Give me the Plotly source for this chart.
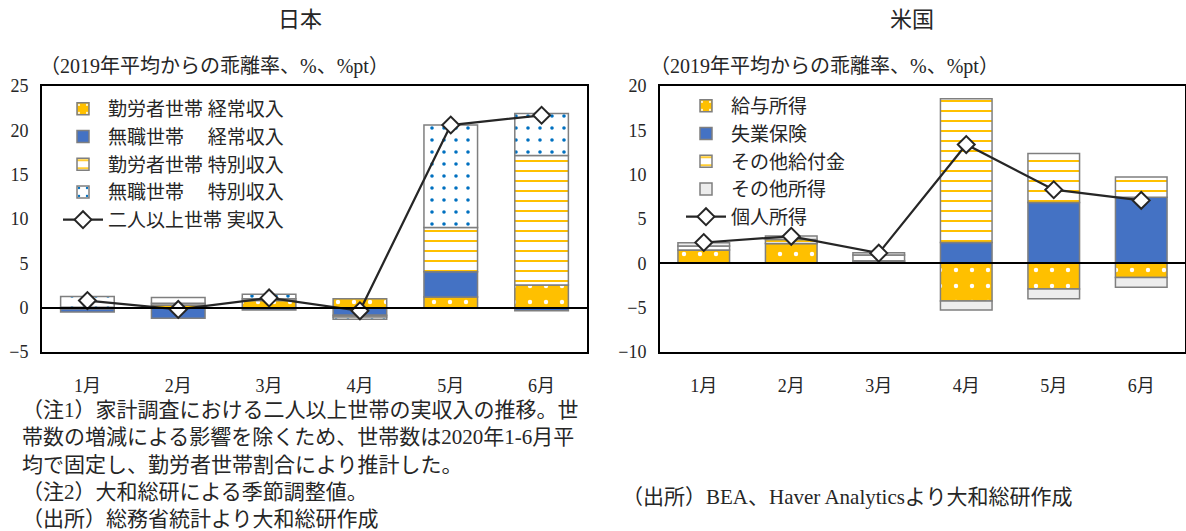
import plotly.graph_objects as go

months = ["1月", "2月", "3月", "4月", "5月", "6月"]

# Japan (2019年平均からの乖離率)
jp_worker_regular = [-0.15, 0.3, 0.8, 1.0, 1.2, 2.55]
jp_nonworker_regular = [-0.35, -1.2, -0.25, -0.85, 2.85, -0.35]
jp_worker_special = [0.05, 0.2, 0.2, -0.2, 5.0, 14.6]
jp_nonworker_special = [1.2, 0.65, 0.5, -0.25, 11.55, 4.75]
jp_total = [0.8, -0.2, 1.1, -0.35, 20.6, 21.7]

# US
us_wages = [1.5, 2.25, 0.15, -4.25, -2.9, -1.6]
us_unemp = [0.0, 0.0, 0.15, 2.35, 6.85, 7.45]
us_other_benefits = [0.45, 0.45, 0.65, 16.2, 5.55, 2.3]
us_other_income = [0.37, 0.38, 0.25, -1.0, -1.1, -1.1]
us_personal = [2.35, 3.05, 1.15, 13.4, 8.3, 7.1]

jp_labels = ["勤労者世帯 経常収入", "無職世帯\u3000 経常収入", "勤労者世帯 特別収入",
             "無職世帯\u3000 特別収入", "二人以上世帯 実収入"]
us_labels = ["給与所得", "失業保険", "その他給付金", "その他所得", "個人所得"]

FONT = "Liberation Serif, Noto Sans CJK JP, sans-serif"
ORANGE = "#FFC000"
BLUE = "#4472C4"
DOTBLUE = "#0070C0"
LGRAY = "#EDEDED"
BORDER = dict(color="#7F7F7F", width=1.5)

styles = {
    "orange_dots": dict(color=ORANGE, line=BORDER,
                        pattern=dict(shape=".", fgcolor="white", bgcolor=ORANGE,
                                     size=16, solidity=0.06, fillmode="replace")),
    "blue": dict(color=BLUE, line=BORDER),
    "zigzag": dict(color="white", line=BORDER,
                   pattern=dict(shape="-", fgcolor=ORANGE, bgcolor="white",
                                size=10, solidity=0.2, fillmode="replace")),
    "blue_dots": dict(color="white", line=BORDER,
                      pattern=dict(shape=".", fgcolor=DOTBLUE, bgcolor="white",
                                   size=12, solidity=0.07, fillmode="replace")),
    "gray": dict(color=LGRAY, line=BORDER),
}

fig = go.Figure()

jp_series = [(jp_worker_regular, "orange_dots"), (jp_nonworker_regular, "blue"),
             (jp_worker_special, "zigzag"), (jp_nonworker_special, "blue_dots")]
for (vals, st), name in zip(jp_series, jp_labels[:4]):
    fig.add_trace(go.Bar(x=months, y=vals, name=name, marker=styles[st],
                         xaxis="x", yaxis="y", legend="legend", width=0.59))
fig.add_trace(go.Scatter(x=months, y=jp_total, name=jp_labels[4], mode="lines+markers",
                         line=dict(color="#262626", width=2.25),
                         marker=dict(symbol="diamond", size=13, color="white",
                                     line=dict(color="#262626", width=2)),
                         xaxis="x", yaxis="y", legend="legend"))

us_series = [(us_wages, "orange_dots"), (us_unemp, "blue"),
             (us_other_benefits, "zigzag"), (us_other_income, "gray")]
for (vals, st), name in zip(us_series, us_labels[:4]):
    fig.add_trace(go.Bar(x=months, y=vals, name=name, marker=styles[st],
                         xaxis="x2", yaxis="y2", legend="legend2", width=0.59))
fig.add_trace(go.Scatter(x=months, y=us_personal, name=us_labels[4], mode="lines+markers",
                         line=dict(color="#262626", width=2.25),
                         marker=dict(symbol="diamond", size=13, color="white",
                                     line=dict(color="#262626", width=2)),
                         xaxis="x2", yaxis="y2", legend="legend2"))

W, H = 1186, 531
ydom = [1 - 352 / H, 1 - 86 / H]

axis_common = dict(showline=True, linecolor="black", linewidth=2, mirror=True,
                   showgrid=False, ticks="", automargin=False,
                   tickfont=dict(family=FONT, size=18, color="#262626"))

fig.update_layout(
    template="none",
    width=W, height=H, margin=dict(l=0, r=0, t=0, b=0, pad=0),
    paper_bgcolor="white", plot_bgcolor="white",
    barmode="relative", showlegend=True,
    font=dict(family=FONT, color="#262626"),
    xaxis=dict(domain=[42 / W, 587 / W], anchor="y", zeroline=False,
               ticklabelstandoff=16, **axis_common),
    yaxis=dict(domain=ydom, anchor="x", range=[-5, 25], dtick=5,
               zeroline=True, zerolinecolor="black", zerolinewidth=1.5,
               ticklabelstandoff=8, **axis_common),
    xaxis2=dict(domain=[660 / W, 1185 / W], anchor="y2", zeroline=False,
                ticklabelstandoff=16, **axis_common),
    yaxis2=dict(domain=ydom, anchor="x2", range=[-10, 20], dtick=5,
                zeroline=True, zerolinecolor="black", zerolinewidth=1.5,
                ticklabelstandoff=8, **axis_common),
    legend=dict(x=58 / W, y=1 - 90 / H, xanchor="left", yanchor="top",
                bgcolor="rgba(0,0,0,0)", font=dict(family=FONT, size=19, color="#262626"),
                itemwidth=40, traceorder="normal"),
    legend2=dict(x=681 / W, y=1 - 87 / H, xanchor="left", yanchor="top",
                 bgcolor="rgba(0,0,0,0)", font=dict(family=FONT, size=19, color="#262626"),
                 itemwidth=40, traceorder="normal"),
)

try:
    fig.update_yaxes(zerolinelayer="above traces")
except Exception:
    pass

ann = []
def txt(x, y, s, size, anchor="left"):
    ann.append(dict(x=x / W, y=1 - y / H, xref="paper", yref="paper", text=s,
                    showarrow=False, xanchor=anchor, yanchor="middle",
                    font=dict(family=FONT, size=size, color="#262626")))

txt(300, 20, "日本", 22, "center")
txt(912, 20, "米国", 22, "center")
txt(38, 67, "（2019年平均からの乖離率、%、%pt）", 20)
txt(648, 67, "（2019年平均からの乖離率、%、%pt）", 20)
notes = ["（注1）家計調査における二人以上世帯の実収入の推移。世",
         "帯数の増減による影響を除くため、世帯数は2020年1-6月平",
         "均で固定し、勤労者世帯割合により推計した。",
         "（注2）大和総研による季節調整値。",
         "（出所）総務省統計より大和総研作成"]
for i, s in enumerate(notes):
    txt(20, 410 + i * 27.3, s, 21)
txt(620, 497, "（出所）BEA、Haver Analyticsより大和総研作成", 21)
fig.update_layout(annotations=ann)

fig.write_html("out.html")
